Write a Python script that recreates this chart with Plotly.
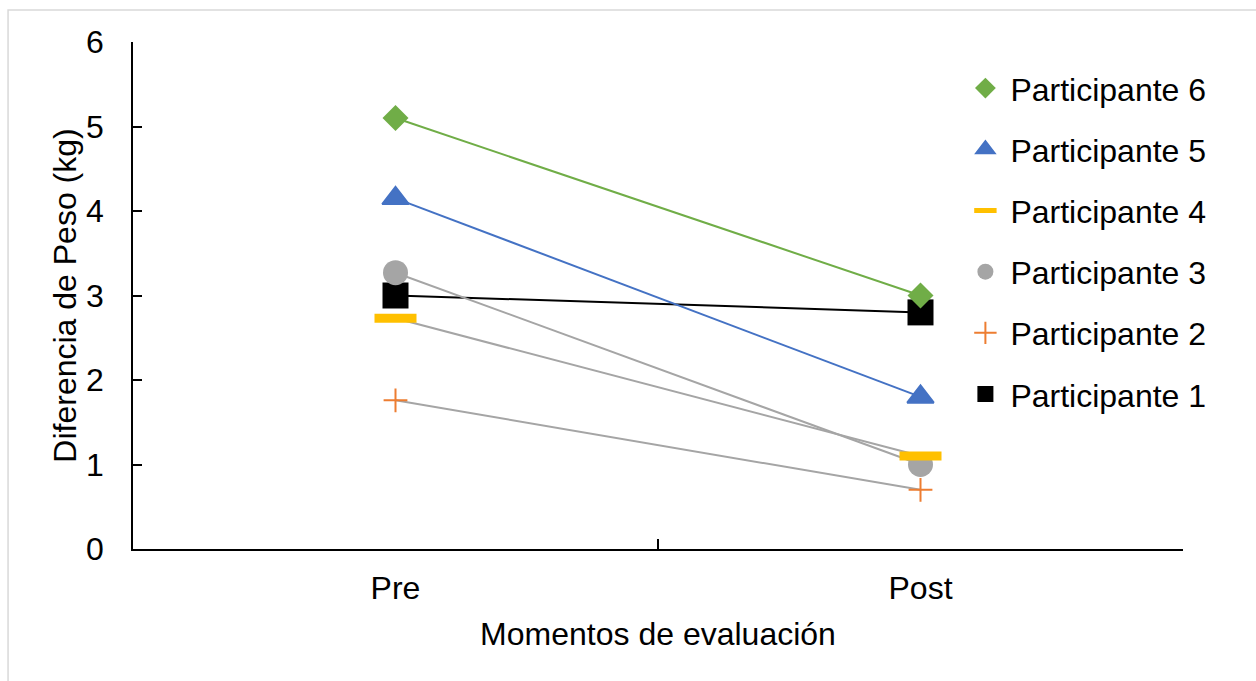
import plotly.graph_objects as go

# Weight difference per participant at each evaluation moment
moments = ["Pre", "Post"]
participants = ["Participante 1", "Participante 2", "Participante 3",
                "Participante 4", "Participante 5", "Participante 6"]
pre_values = [3.0, 1.76, 3.27, 2.73, 4.15, 5.1]
post_values = [2.8, 0.7, 1.0, 1.1, 1.8, 3.0]

line_colors = ["#000000", "#A5A5A5", "#A5A5A5", "#A5A5A5", "#4472C4", "#70AD47"]
marker_colors = ["#000000", "#ED7D31", "#A5A5A5", "#FFC000", "#4472C4", "#70AD47"]
marker_symbols = ["square", "cross-thin", "circle", "line-ew", "triangle-up", "diamond"]
marker_sizes = [26, 17, 25, 30, 23, 20]
marker_line_widths = [0, 2, 0, 9, 2, 0]

FONT = "Liberation Sans, Arial, sans-serif"
FSIZE = 32

fig = go.Figure()
n = len(participants)
for i, name in enumerate(participants):
    ys = [pre_values[i], post_values[i]]
    # connecting line (kept out of the legend)
    fig.add_trace(go.Scatter(
        x=moments, y=ys, mode="lines", name=name, legendgroup=name,
        showlegend=False, line=dict(color=line_colors[i], width=2),
        hoverinfo="skip", legendrank=n - i,
    ))
    # markers; the legend lists the last participant first
    fig.add_trace(go.Scatter(
        x=moments, y=ys, mode="markers", name=name, legendgroup=name,
        legendrank=n - i,
        marker=dict(symbol=marker_symbols[i], size=marker_sizes[i],
                    color=marker_colors[i],
                    line=dict(color=marker_colors[i], width=marker_line_widths[i])),
    ))

fig.update_layout(
    width=1256, height=681,
    margin=dict(l=133, r=73, t=42, b=132),
    paper_bgcolor="white", plot_bgcolor="white",
    font=dict(family=FONT, size=FSIZE, color="#000000"),
    showlegend=True,
    legend=dict(
        x=0.788, y=0.963, xanchor="left", yanchor="top",
        traceorder="grouped", tracegroupgap=16.6,
        bgcolor="rgba(0,0,0,0)", font=dict(family=FONT, size=FSIZE),
        itemsizing="trace", itemwidth=40,
    ),
    xaxis=dict(
        type="category", categoryorder="array", categoryarray=moments,
        range=[-0.5, 1.5], tickson="boundaries", ticks="inside",
        ticklen=10, tickwidth=1.5, tickcolor="#000000",
        showline=True, linecolor="#000000", linewidth=2,
        showgrid=False, zeroline=False, ticklabelstandoff=10,
        title=dict(text="Momentos de evaluación", standoff=17,
                   font=dict(family=FONT, size=FSIZE)),
    ),
    yaxis=dict(
        range=[0, 6], dtick=1, tick0=0, ticks="inside",
        ticklen=9, tickwidth=1.5, tickcolor="#000000",
        showline=True, linecolor="#000000", linewidth=1.5,
        showgrid=False, zeroline=False, ticklabelstandoff=21,
        title=dict(text="Diferencia de Peso (kg)", standoff=0,
                   font=dict(family=FONT, size=FSIZE)),
    ),
    shapes=[dict(
        type="rect", xref="paper", yref="paper",
        x0=-0.119, x1=1.2, y0=-0.5, y1=1.063,
        line=dict(color="#D9D9D9", width=1.5), layer="below",
    )],
)

fig.write_html("out.html")
